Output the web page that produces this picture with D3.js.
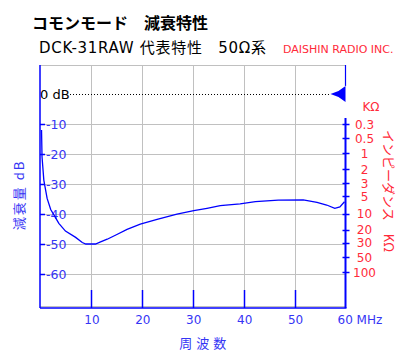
<!DOCTYPE html>
<html><head><meta charset="utf-8">
<script src="https://cdn.jsdelivr.net/npm/d3@7"></script>
<style>
html,body{margin:0;padding:0;background:#fff;}
svg{display:block;}
</style></head>
<body>
<script>
// ---- data ----
const freqMHz = [0.3,0.4,0.75,1.4,2.1,2.7,3.7,5.0,7.0,8.3,9.0,10.9,11.9,13.2,15.0,17.1,19.7,23.0,26.9,30.2,32.8,35.4,39.3,42.3,46.8,51.7,54.4,56.3,57.9,58.9,59.8];
const attenDB = [-12,-21,-28.7,-34.8,-38.5,-40.2,-43.1,-45.7,-47.8,-49.5,-50,-50,-49.3,-48.4,-46.9,-45.1,-43.4,-41.8,-40.0,-38.9,-38.1,-37.2,-36.6,-35.9,-35.4,-35.3,-36.1,-37.0,-38.1,-37.6,-35.9];
const xTicks = [10,20,30,40,50];
const xTickLabels = ["10","20","30","40","50","60 MHz"];
const xLabelVals = [10,20,30,40,50,60];
const yTicks = [-10,-20,-30,-40,-50,-60];
const yTickLabels = ["-10","-20","-30","-40","-50","-60"];
const zTicks = [0.3,0.5,1,2,3,5,10,20,30,50,100];
const zTickLabels = ["0.3","0.5","1","2","3","5","10","20","30","50","100"];
// dB level at which each impedance tick sits on the chart's right scale
const zTickDB = [-10.1,-14.8,-19.7,-25,-29.8,-34.1,-39.9,-45.3,-49.6,-54.4,-59.4];

const W = 417, H = 359;
const svg = d3.select("body").append("svg").attr("width",W).attr("height",H);
svg.append("rect").attr("width",W).attr("height",H).attr("fill","#fff");

const x = d3.scaleLinear().domain([0,60]).range([40,345.5]);
const y = d3.scaleLinear().domain([9.67,-71.33]).range([65,308]);
const zdb = d3.scaleLinear().domain(zTicks.map(Math.log10)).range(zTickDB);
const z = v => y(zdb(Math.log10(v)));

const BLUE = "#0000ff", LBL = "#3535f5", RED = "#ff2a3a", GRID = "#c0c0c0";
const LAT = "'DejaVu Sans', Verdana, sans-serif";
const CJK = "'Noto Sans CJK JP', sans-serif";

// titles
svg.append("text").attr("x",32).attr("y",29).attr("font-family",CJK).attr("font-weight","bold")
  .attr("font-size",16).attr("fill","#000").text("コモンモード　減衰特性");
svg.append("text").attr("x",39).attr("y",53).attr("font-family",LAT+","+CJK)
  .attr("font-size",15).attr("fill","#000").attr("textLength",227).attr("lengthAdjust","spacing")
  .text("DCK-31RAW 代表特性　50Ω系");
svg.append("text").attr("x",283).attr("y",53).attr("font-family",LAT)
  .attr("font-size",11).attr("fill",RED).text("DAISHIN RADIO INC.");

// frame & grid
const x0 = x(0), x1 = x(60), yTop = y.range()[0], yBot = y.range()[1];
svg.append("line").attr("x1",x0).attr("x2",x1).attr("y1",yTop+0.5).attr("y2",yTop+0.5).attr("stroke",GRID);
svg.append("line").attr("x1",x0).attr("x2",x1).attr("y1",yBot-1.5).attr("y2",yBot-1.5).attr("stroke",GRID);
svg.append("g").selectAll("line").data(xTicks).join("line")
  .attr("x1",d=>Math.round(x(d))+0.5).attr("x2",d=>Math.round(x(d))+0.5)
  .attr("y1",yTop).attr("y2",yBot).attr("stroke",GRID);
svg.append("g").selectAll("line").data(yTicks).join("line")
  .attr("x1",x0).attr("x2",x1)
  .attr("y1",d=>Math.round(y(d))+0.5).attr("y2",d=>Math.round(y(d))+0.5).attr("stroke",GRID);

// 0 dB dotted line
svg.append("line").attr("x1",70).attr("x2",x(60)-16).attr("y1",Math.round(y(0))+0.5).attr("y2",Math.round(y(0))+0.5)
  .attr("stroke","#000").attr("stroke-dasharray","1,2");
svg.append("text").attr("x",x0).attr("y",y(0)+5).attr("font-family",LAT).attr("font-size",13)
  .attr("fill","#000").text("0 dB");
// marker
const mx = x(60), my = y(0);
svg.append("path").attr("fill",BLUE)
  .attr("d",`M${mx-15},${my} L${mx-7},${my-3} L${mx},${my-8} L${mx},${my+8} L${mx-7},${my+3} Z`);

// axes lines
svg.append("line").attr("x1",x0).attr("x2",x0).attr("y1",yTop).attr("y2",yBot).attr("stroke",BLUE).attr("stroke-width",1.5);
svg.append("line").attr("x1",x1).attr("x2",x1).attr("y1",yTop).attr("y2",y(2.7)).attr("stroke",BLUE).attr("stroke-width",1.2);
svg.append("line").attr("x1",x1).attr("x2",x1).attr("y1",y(-8)).attr("y2",yBot).attr("stroke",BLUE).attr("stroke-width",2);
svg.append("line").attr("x1",x0).attr("x2",x1+1).attr("y1",yBot).attr("y2",yBot).attr("stroke",BLUE).attr("stroke-width",1.5);

// x ticks
svg.append("g").selectAll("line").data(xTicks).join("line")
  .attr("x1",d=>Math.round(x(d))+0.5).attr("x2",d=>Math.round(x(d))+0.5)
  .attr("y1",yBot-18).attr("y2",yBot).attr("stroke",BLUE).attr("stroke-width",1.5);
svg.append("g").selectAll("text").data(xLabelVals).join("text")
  .attr("x",(d,i)=> d===60 ? x(d)-8 : x(d)+1)
  .attr("y",324).attr("text-anchor",d=>d===60?"start":"middle")
  .attr("font-family",LAT).attr("font-size",12).attr("fill",LBL)
  .text((d,i)=>xTickLabels[i]);
svg.append("text").attr("x",(x0+x1)/2+12).attr("y",348).attr("text-anchor","middle")
  .attr("font-family",CJK).attr("font-size",13).attr("letter-spacing",4).attr("fill",LBL).text("周波数");

// y ticks (left)
svg.append("g").selectAll("line").data(yTicks).join("line")
  .attr("x1",x0).attr("x2",x0+5).attr("y1",d=>Math.round(y(d))+0.5).attr("y2",d=>Math.round(y(d))+0.5)
  .attr("stroke",BLUE).attr("stroke-width",1.5);
svg.append("g").selectAll("text").data(yTicks).join("text")
  .attr("x",x0+6).attr("y",d=>y(d)+4.5).attr("font-family",LAT).attr("font-size",12.5)
  .attr("fill",LBL).text((d,i)=>yTickLabels[i]);
svg.append("text").attr("transform","translate(24,195) rotate(-90)").attr("text-anchor","middle")
  .attr("font-family",CJK).attr("font-size",13).attr("letter-spacing",2).attr("fill",LBL).text("減衰量 dB");

// right impedance axis
svg.append("g").selectAll("line").data(zTicks).join("line")
  .attr("x1",x1-3).attr("x2",x1+4).attr("y1",d=>Math.round(z(d))+0.5).attr("y2",d=>Math.round(z(d))+0.5)
  .attr("stroke",BLUE).attr("stroke-width",1.5);
svg.append("g").selectAll("text").data(zTicks).join("text")
  .attr("x",364.5).attr("y",d=>z(d)+4.5).attr("text-anchor","middle")
  .attr("font-family",LAT).attr("font-size",12).attr("fill",RED).text((d,i)=>zTickLabels[i]);
svg.append("text").attr("x",371).attr("y",110.5).attr("text-anchor","middle")
  .attr("font-family",LAT).attr("font-size",12).attr("fill",RED).text("KΩ");
svg.append("text").attr("transform","translate(384,191) rotate(90)").attr("text-anchor","middle")
  .attr("font-family",CJK).attr("font-size",13).attr("fill",RED).text("インピーダンス　KΩ");

// curve
const pts = freqMHz.map((f,i)=>[f,attenDB[i]]);
svg.append("path").datum(pts).attr("fill","none").attr("stroke",BLUE).attr("stroke-width",1.3)
  .attr("d",d3.line().x(d=>x(d[0])).y(d=>y(d[1])));
</script>
</body></html>
